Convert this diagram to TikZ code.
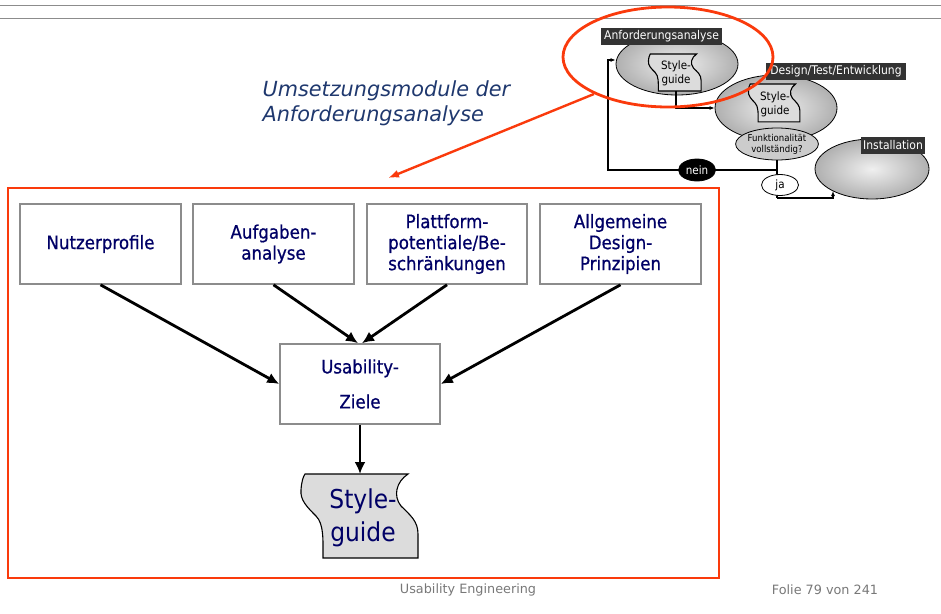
\documentclass[tikz,border=0pt]{standalone}
\usepackage{fontspec}
\setmainfont{DejaVu Sans}
\newfontfamily\tahoma[FakeStretch=0.9]{DejaVu Sans}
\newfontfamily\tahomabold[FakeStretch=0.9,FakeBold=0.7]{DejaVu Sans}
\usetikzlibrary{arrows.meta,shapes.geometric}

\definecolor{slideRed}{RGB}{250,58,12}
\definecolor{boxText}{RGB}{0,0,102}
\definecolor{titleBlue}{RGB}{31,56,110}
\definecolor{frameGray}{RGB}{140,140,140}
\definecolor{labelDark}{RGB}{51,51,51}
\definecolor{footGray}{RGB}{120,120,120}
\definecolor{sheetGray}{RGB}{220,220,220}

% wavy "style guide" sheet, drawn in a 120 x 84 box (x right, y down)
\newcommand{\guidesheet}[4]{%
  \begin{scope}[shift={(#1,#2)},xscale=#3,yscale=#4]
    \draw[sheet] (5,0) -- (108,0)
      .. controls (96,8) and (93,22) .. (101,32)
      .. controls (110,41) and (118,47) .. (118,60)
      -- (118,84) -- (23,84)
      .. controls (23,66) and (24,50) .. (16,42)
      .. controls (7,33) and (0,26) .. (1,16)
      .. controls (1.5,8) and (3,3) .. (5,0) -- cycle;
  \end{scope}}

\begin{document}
\begin{tikzpicture}[x=1pt,y=-1pt,
  module/.style={draw=frameGray, line width=1.6pt, fill=white, inner sep=0pt,
    minimum width=161pt, minimum height=80pt, align=center, text=boxText,
    font=\tahomabold\fontsize{18.5}{21}\selectfont},
  flow/.style={line width=2.8pt, -{Latex[length=12pt,width=11pt]}},
  sheet/.style={draw=black, line width=1.1pt, fill=sheetGray},
  stage/.style={ellipse, draw=black, line width=0.8pt, inner sep=0pt,
    inner color=gray!12, outer color=gray!62},
  tag/.style={fill=labelDark, text=white, inner sep=0pt,
    font=\tahoma\fontsize{12}{12}\selectfont},
  thin/.style={line width=1.4pt},
  thinarrow/.style={line width=1.4pt, -{Latex[length=5pt,width=4pt]}},
  decision/.style={ellipse, draw=black, line width=0.8pt, inner sep=0pt}
]
\useasboundingbox (0,0) rectangle (941,613);

% header rules
\draw[frameGray, line width=1pt] (0,5.5) -- (941,5.5);
\draw[frameGray, line width=1pt] (0,18.5) -- (941,18.5);

% title
\node[anchor=west, align=left, text=titleBlue,
  font=\itshape\fontsize{20.8}{25}\selectfont] (title) at (259,103)
  {Umsetzungsmodule der\\Anforderungsanalyse};

% ---------- process overview (top right) ----------
\node[stage, minimum width=122pt, minimum height=62pt] (req) at (677,64) {};
\node[stage, minimum width=122pt, minimum height=66pt] (dev) at (776,108) {};
\node[decision, fill=gray!40, minimum width=82pt, minimum height=32pt,
  align=center, font=\tahoma\fontsize{9.5}{11}\selectfont] (check) at (777,144)
  {Funktionalität\\vollständig?};
\node[stage, minimum width=114pt, minimum height=60pt] (inst) at (872,169) {};

\guidesheet{648}{54}{0.45}{0.44}
\node[align=center, font=\tahoma\fontsize{11.5}{14}\selectfont] (sgreq) at (676,73.5) {Style-\\guide};
\guidesheet{748}{84}{0.44}{0.45}
\node[align=center, font=\tahoma\fontsize{11.5}{14}\selectfont] (sgdev) at (775,104) {Style-\\guide};
\coordinate (sgreqbot) at (676,91);

\node[tag, minimum width=121pt, minimum height=17pt] (reqtag) at (661.5,36.5) {Anforderungsanalyse};
\node[tag, minimum width=140pt, minimum height=17pt] (devtag) at (836,71.5) {Design/Test/Entwicklung};
\node[tag, minimum width=64pt, minimum height=17pt] (insttag) at (893,145.5) {Installation};

% loop back and forward connectors
\coordinate (loopA) at (608,170);
\coordinate (loopB) at (608,60);
\coordinate (yesA) at (777,198);
\coordinate (yesB) at (833,198);
\coordinate (yesC) at (833,191);
\coordinate (downA) at (676,108);
\draw[thin] (check.south) -- (yesA);
\draw[thinarrow] (yesA) -- (yesB) -- (yesC);
\draw[thinarrow] (sgreqbot) -- (downA) -- (dev.west |- downA);
\draw[thinarrow] (check.south |- loopA) -- (loopA) -- (loopB) -- (req.west |- loopB);
\node[decision, fill=black, text=white, minimum width=37pt, minimum height=22pt,
  font=\tahoma\fontsize{11.5}{12}\selectfont] (no) at (697,170) {nein};
\node[decision, fill=white, minimum width=37pt, minimum height=21pt,
  font=\tahoma\fontsize{11.5}{12}\selectfont] (yes) at (780,185) {ja};

% highlight of the requirements stage
\node[ellipse, draw=slideRed, line width=2.8pt, minimum width=210pt,
  minimum height=100pt, inner sep=0pt] (focus) at (668,57) {};
\coordinate (zoomfrom) at (594,94);
\coordinate (zoomto) at (388,178);
\draw[slideRed, line width=2.4pt, -{Latex[length=11pt,width=8pt]}] (zoomfrom) -- (zoomto);

% ---------- modules of the requirements analysis ----------
\draw[slideRed, line width=2.8pt] (8,188) rectangle (719,578);

\node[module] (user) at (100.5,244) {Nutzerprofile};
\node[module] (task) at (273.5,244) {Aufgaben-\\analyse};
\node[module, minimum width=160pt] (platform) at (447,244) {Plattform-\\potentiale/Be-\\schränkungen};
\node[module] (design) at (620.5,244) {Allgemeine\\Design-\\Prinzipien};
\node[module, minimum width=160pt, font=\tahomabold\fontsize{18.5}{35}\selectfont] (goals) at (360,384) {Usability-\\Ziele};

\guidesheet{300}{474}{1}{1}
\node[align=center, text=boxText, font=\tahoma\fontsize{26}{33}\selectfont] (guide) at (363,518) {Style-\\guide};
\coordinate (guidetop) at (360,474);

\draw[flow] (user.south) -- (goals.west);
\draw[flow] (task.south) -- ([xshift=-2pt]goals.north);
\draw[flow] (platform.south) -- ([xshift=2pt]goals.north);
\draw[flow] (design.south) -- (goals.east);
\draw[flow] (goals.south) -- (guidetop);

% footer
\node[text=footGray, font=\fontsize{12.8}{14}\selectfont] (foot) at (468,590) {Usability Engineering};
\node[text=footGray, font=\fontsize{12.8}{14}\selectfont] (page) at (825,590) {Folie 79 von 241};
\end{tikzpicture}
\end{document}
